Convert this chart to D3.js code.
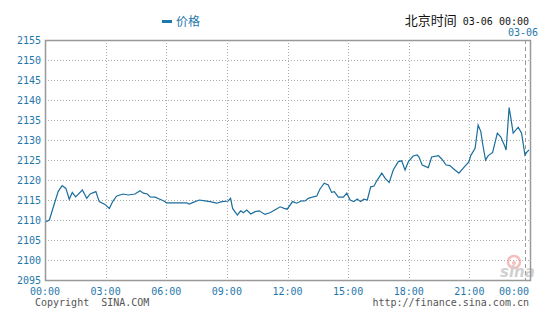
<!DOCTYPE html>
<html><head><meta charset="utf-8">
<script src="https://cdn.jsdelivr.net/npm/d3@7"></script>
<style>body{margin:0;background:#fff}svg{display:block}</style>
</head><body><div id="chart"></div>
<script>
// minutes since 00:00 (03-05) and price values
const minutes = [3,13,25,39,51,62,72,81,91,111,124,134,151,161,178,191,201,213,232,247,267,282,292,304,312,327,341,353,361,421,428,440,458,475,490,510,525,544,551,557,571,581,589,599,611,624,636,653,668,686,698,710,719,735,747,762,772,782,797,807,816,829,841,851,859,871,886,896,906,917,927,937,947,957,967,977,985,1000,1010,1022,1034,1049,1059,1069,1079,1093,1105,1110,1120,1138,1148,1168,1178,1191,1202,1217,1229,1245,1259,1264,1277,1286,1294,1300,1308,1316,1329,1343,1353,1363,1369,1378,1383,1390,1405,1415,1425,1430,1437];
const prices = [2109.6,2110,2113.3,2117.1,2118.6,2117.9,2115.2,2116.9,2115.8,2117.5,2115.4,2116.5,2117.1,2114.6,2113.9,2112.9,2114.6,2116,2116.5,2116.25,2116.5,2117.3,2116.7,2116.5,2115.8,2115.7,2115.2,2114.75,2114.3,2114.3,2114,2114.4,2115,2114.8,2114.6,2114.2,2114.6,2114.75,2115.4,2112.9,2111.25,2112.3,2111.8,2112.5,2111.5,2112.1,2112.3,2111.4,2111.8,2112.7,2113.3,2112.9,2112.7,2114.6,2114.2,2114.8,2114.75,2115.4,2115.8,2116,2117.7,2119.2,2118.75,2116.9,2117.1,2115.7,2115.7,2116.7,2115,2114.6,2115.25,2114.6,2115.2,2115,2118.3,2118.5,2119.8,2121.7,2120.4,2119.4,2122.5,2124.6,2124.8,2122.5,2124.6,2126,2126.25,2125.8,2123.75,2123.1,2125.75,2126.1,2125.25,2123.75,2123.6,2122.5,2121.7,2123.3,2124.6,2126.1,2127.9,2133.75,2132.1,2128.75,2125,2126.1,2126.9,2131.7,2130.8,2128.9,2127.5,2138.1,2135.6,2131.7,2133.2,2131.7,2126.25,2126.9,2127.5];
const yTicks = [2095,2100,2105,2110,2115,2120,2125,2130,2135,2140,2145,2150,2155];
const xTickMinutes = [0,180,360,540,720,900,1080,1260,1440];
const xTickLabels = ["00:00","03:00","06:00","09:00","12:00","15:00","18:00","21:00","00:00"];
const dayChangeMinute = 1425;
const seriesName = "价格";
const headerLabel = "北京时间";
const headerTime = " 03-06 00:00";
const dayLabel = "03-06";

const W = 544, H = 324;
const m = {left:45, right:14, top:40, bottom:44};
const x = d3.scaleLinear().domain([0,1440]).range([m.left, W - m.right]);
const y = d3.scaleLinear().domain([2095,2155]).range([H - m.bottom, m.top]);
const blue = "#1f78ab";
const mono = "'DejaVu Sans Mono', monospace";

const svg = d3.select("#chart").append("svg").attr("width", W).attr("height", H);

// grid
svg.append("g").selectAll("line").data(yTicks.slice(1,-1)).join("line")
  .attr("x1", m.left).attr("x2", W - m.right)
  .attr("y1", d => y(d) + 0.5).attr("y2", d => y(d) + 0.5)
  .attr("stroke", "#aaa").attr("stroke-dasharray", "1,2");
svg.append("g").selectAll("line").data(xTickMinutes.slice(1,-1)).join("line")
  .attr("x1", d => Math.round(x(d)) + 0.5).attr("x2", d => Math.round(x(d)) + 0.5)
  .attr("y1", m.top).attr("y2", H - m.bottom)
  .attr("stroke", "#aaa").attr("stroke-dasharray", "1,2");

// day change dashed line
svg.append("line")
  .attr("x1", Math.round(x(dayChangeMinute)) + 0.5).attr("x2", Math.round(x(dayChangeMinute)) + 0.5)
  .attr("y1", m.top).attr("y2", H - m.bottom)
  .attr("stroke", "#999").attr("stroke-dasharray", "4,3");
svg.append("text").attr("x", x(dayChangeMinute) - 17).attr("y", 36)
  .attr("font-family", mono).attr("font-size", 10).attr("fill", blue).text(dayLabel);

// sina watermark
const wm = svg.append("g").attr("opacity", 0.55);
wm.append("circle").attr("cx", 514).attr("cy", 262).attr("r", 6).attr("fill", "none").attr("stroke", "#e88").attr("stroke-width", 2.5);
wm.append("circle").attr("cx", 514).attr("cy", 263).attr("r", 2).attr("fill", "#e88");
wm.append("text").attr("x", 500).attr("y", 277).attr("font-family", "'DejaVu Sans', sans-serif")
  .attr("font-weight", "bold").attr("font-style", "italic").attr("font-size", 15).attr("fill", "#aaa").text("sina");

// frame
svg.append("rect").attr("x", m.left + 0.5).attr("y", m.top + 0.5)
  .attr("width", W - m.right - m.left).attr("height", H - m.bottom - m.top)
  .attr("fill", "none").attr("stroke", "#999").attr("stroke-width", 1.5);

// line
const line = d3.line().x((d,i) => x(minutes[i])).y(d => y(d));
svg.append("path").datum(prices).attr("d", line)
  .attr("fill", "none").attr("stroke", "#1a6d9c").attr("stroke-width", 1.2);

// y labels
svg.append("g").selectAll("text").data(yTicks).join("text")
  .attr("x", 41).attr("y", d => y(d)).attr("dy", "0.35em").attr("text-anchor", "end")
  .attr("font-family", mono).attr("font-size", 10).attr("fill", blue).text(d => d);

// x labels
svg.append("g").selectAll("text").data(xTickMinutes).join("text")
  .attr("x", (d,i) => i === xTickMinutes.length - 1 ? W - m.right - 1 : x(d))
  .attr("y", 295)
  .attr("text-anchor", (d,i) => i === xTickMinutes.length - 1 ? "end" : "middle")
  .attr("font-family", mono).attr("font-size", 10).attr("fill", blue).text((d,i) => xTickLabels[i]);

// footer
svg.append("text").attr("x", 35).attr("y", 306).attr("font-family", mono).attr("font-size", 10)
  .attr("fill", "#555").attr("xml:space", "preserve").style("white-space", "pre").text("Copyright  SINA.COM");
svg.append("text").attr("x", W - m.right - 1).attr("y", 306).attr("text-anchor", "end")
  .attr("font-family", mono).attr("font-size", 10).attr("fill", "#555").text("http://finance.sina.com.cn");

// legend
svg.append("rect").attr("x", 162).attr("y", 20).attr("width", 10).attr("height", 3).attr("fill", blue);
svg.append("text").attr("x", 176).attr("y", 26).attr("font-family", "'Noto Sans CJK SC', sans-serif")
  .attr("font-size", 12).attr("fill", blue).text(seriesName);

// header
const hdr = svg.append("text").attr("x", W - m.right - 1).attr("y", 25).attr("text-anchor", "end")
  .attr("fill", "#111").style("white-space", "pre");
hdr.append("tspan").attr("font-family", "'Noto Sans CJK SC', sans-serif").attr("font-size", 13).text(headerLabel);
hdr.append("tspan").attr("font-family", mono).attr("font-size", 10).text(headerTime);
</script></body></html>
